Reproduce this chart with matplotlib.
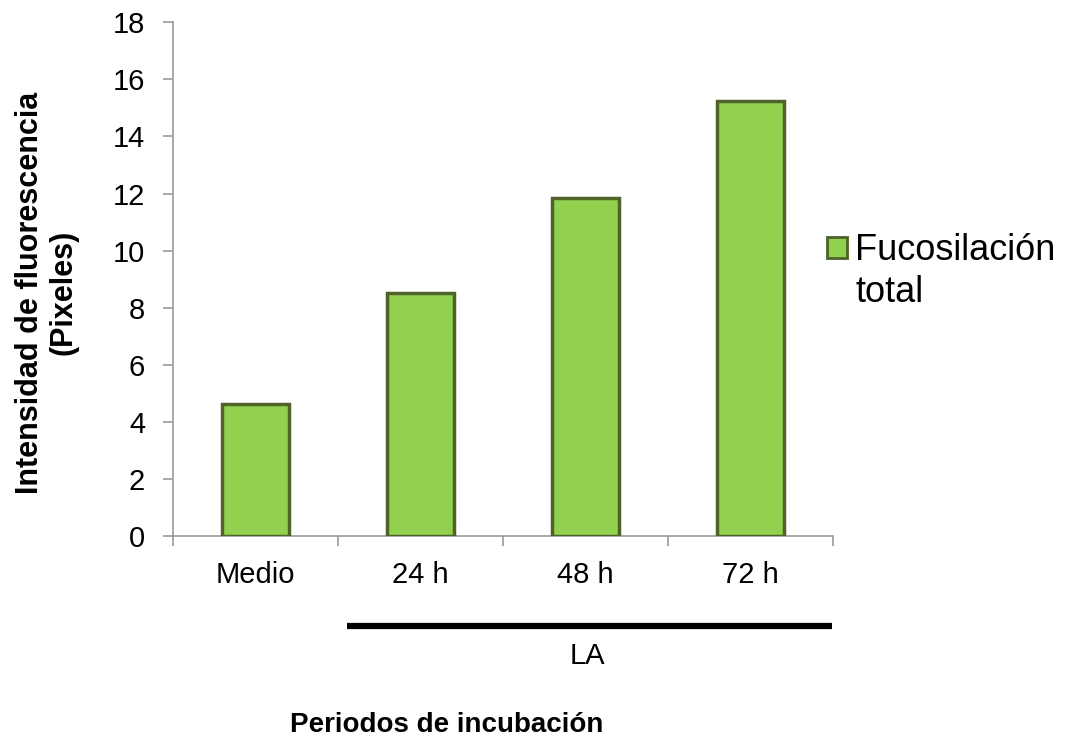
import numpy as np
import matplotlib.pyplot as plt
import matplotlib.transforms as mtransforms
from matplotlib.patches import Rectangle

plt.rcParams['font.family'] = ['Liberation Sans', 'DejaVu Sans']

categories = ['Medio', '24 h', '48 h', '72 h']
values = [4.62, 8.51, 11.83, 15.23]
series_name = ['Fucosilación', 'total']

bar_color = '#92D050'
edge_color = '#4F6228'
axis_color = '#999999'

fig = plt.figure(figsize=(10.68, 7.44), dpi=100)
ax = fig.add_axes([0.162, 0.2796, 0.618, 0.6904])

x = np.arange(len(categories))
ax.bar(x, values, 0.41, color=bar_color, edgecolor=edge_color,
       linewidth=2.5, zorder=3)

ax.set_xlim(-0.5, 3.5)
ax.set_ylim(0, 18)
ax.set_yticks(np.arange(0, 19, 2))

for s in ['top', 'right']:
    ax.spines[s].set_visible(False)
for s in ['left', 'bottom']:
    ax.spines[s].set_color(axis_color)
    ax.spines[s].set_linewidth(1.2)

ax.set_xticks(x)
ax.set_xticklabels(categories)
ax.set_xticks(np.arange(-0.5, 4, 1), minor=True)
ax.tick_params(axis='x', which='major', length=0, pad=18, labelsize=21)
ax.tick_params(axis='x', which='minor', length=7, color=axis_color, width=1.2)
ax.tick_params(axis='y', length=7, color=axis_color, width=1.2, labelsize=21, pad=13)

# LA bracket under the last three bars
trans = mtransforms.blended_transform_factory(ax.transData, ax.transAxes)
ax.plot([0.555, 3.494], [-0.176, -0.176], color='black', linewidth=4.5,
        transform=trans, clip_on=False, solid_capstyle='butt')
ax.text(2.01, -0.233, 'LA', transform=trans, ha='center', va='center', fontsize=21)

fig.text(0.272, 0.0255, 'Periodos de incubación', ha='left', va='center',
         fontsize=20, fontweight='bold')
fig.text(0.044, 0.607, 'Intensidad de fluorescencia\n(Pixeles)', ha='center',
         va='center', rotation=90, fontsize=22, fontweight='bold', linespacing=1.15)

# legend: square marker and two-line label
fig.patches.append(Rectangle((827 / 1068, 1 - 258 / 744), 20 / 1068, 21 / 744,
                             transform=fig.transFigure, facecolor=bar_color,
                             edgecolor=edge_color, linewidth=2))
fig.text(0.801, 1 - 260 / 744, series_name[0], ha='left', va='baseline', fontsize=26)
fig.text(0.801, 1 - 302 / 744, series_name[1], ha='left', va='baseline', fontsize=26)

fig.savefig('out.png', dpi=100)
